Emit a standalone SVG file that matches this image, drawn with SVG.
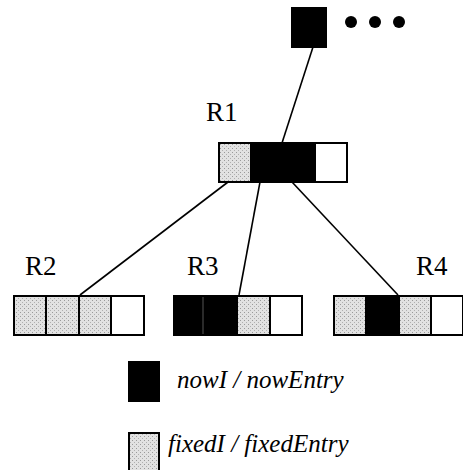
<svg xmlns="http://www.w3.org/2000/svg" width="463" height="470" viewBox="0 0 463 470">
<style>
.lbl{font-family:"Liberation Serif","Times New Roman",serif;font-size:27px;fill:#000}
.it{font-family:"Liberation Serif","Times New Roman",serif;font-size:25px;font-style:italic;fill:#000}
.b{fill:#000;stroke:#000;stroke-width:2}
.g{fill:url(#stip);stroke:#000;stroke-width:2}
.w{fill:#fff;stroke:#000;stroke-width:2}
.edge{stroke:#000;stroke-width:1.6;fill:none}
</style>
<defs>
<pattern id="stip" width="4" height="4" patternUnits="userSpaceOnUse">
<rect width="4" height="4" fill="#e2e2e2"/>
<rect x="0" y="0" width="1" height="1" fill="#9a9a9a"/>
<rect x="2" y="2" width="1" height="1" fill="#b0b0b0"/>
</pattern>
</defs>
<g id="connectors">
<line class="edge" x1="313" y1="47" x2="282" y2="143"/>
<line class="edge" x1="228" y1="182" x2="80" y2="295"/>
<line class="edge" x1="260" y1="182" x2="239" y2="295"/>
<line class="edge" x1="292" y1="182" x2="398" y2="295"/>
</g>
<g id="top">
<rect class="b" x="292" y="8" width="34" height="39"/>
<circle cx="351" cy="22" r="6"/>
<circle cx="375" cy="22" r="6"/>
<circle cx="399" cy="22" r="6"/>
</g>
<g id="R1">
<text class="lbl" x="206" y="121">R1</text>
<rect class="g" x="219" y="143" width="32" height="39"/>
<rect class="b" x="251" y="143" width="32" height="39"/>
<rect class="b" x="283" y="143" width="32" height="39"/>
<rect class="w" x="315" y="143" width="32" height="39"/>
</g>
<g id="R2">
<text class="lbl" x="25" y="275">R2</text>
<rect class="g" x="14" y="296" width="32" height="39"/>
<rect class="g" x="46" y="296" width="33" height="39"/>
<rect class="g" x="79" y="296" width="32" height="39"/>
<rect class="w" x="111" y="296" width="33" height="39"/>
</g>
<g id="R3">
<text class="lbl" x="187" y="275">R3</text>
<rect class="b" x="174" y="296" width="29" height="39"/>
<rect class="b" x="203" y="296" width="34" height="39"/>
<line x1="203" y1="297" x2="203" y2="334" stroke="#555" stroke-width="1"/>
<rect class="g" x="237" y="296" width="33" height="39"/>
<rect class="w" x="270" y="296" width="32" height="39"/>
</g>
<g id="R4">
<text class="lbl" x="416" y="275">R4</text>
<rect class="g" x="334" y="296" width="32" height="39"/>
<rect class="b" x="366" y="296" width="33" height="39"/>
<rect class="g" x="399" y="296" width="32" height="39"/>
<rect class="w" x="431" y="296" width="32" height="39"/>
</g>
<g id="legend-now">
<rect class="b" x="129" y="362" width="30" height="39"/>
<text class="it" x="177" y="388">nowI / nowEntry</text>
</g>
<g id="legend-fixed">
<rect class="g" x="129" y="433" width="30" height="39"/>
<text class="it" x="168" y="452">fixedI / fixedEntry</text>
</g>
</svg>
